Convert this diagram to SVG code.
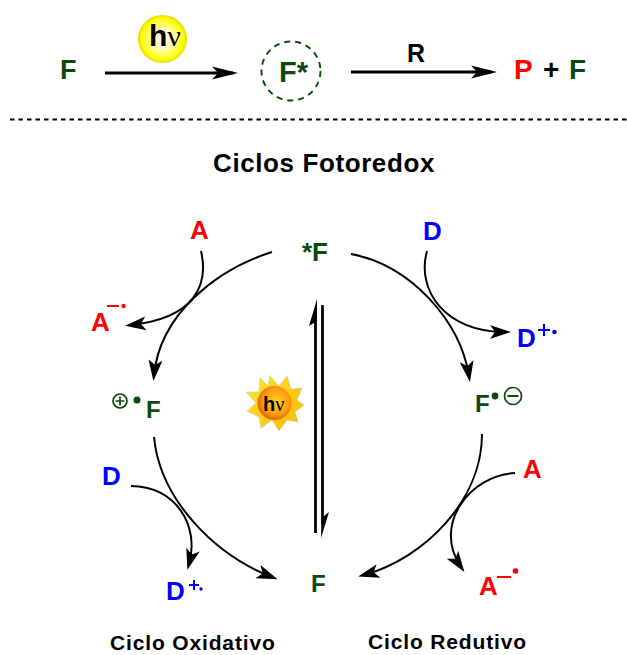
<svg xmlns="http://www.w3.org/2000/svg" width="627" height="655" viewBox="0 0 627 655">
<style>
text{font-family:"Liberation Sans",Arial,sans-serif;font-weight:bold}
.g{fill:#0b4a0b}.r{fill:#ff0000}.b{fill:#0000ff}.k{fill:#000}
.t{font-size:21px;letter-spacing:.85px}
.c{fill:none;stroke:#000;stroke-width:2;marker-end:url(#h)}
.l{fill:none;stroke:#000;stroke-width:2.800;marker-end:url(#H)}
</style>
<defs>
<marker id="h" markerUnits="userSpaceOnUse" markerWidth="26" markerHeight="20" refX="15" refY="10" orient="auto"><path d="M0 3L21 10L0 17L5 10Z"/></marker>
<marker id="H" markerUnits="userSpaceOnUse" markerWidth="30" markerHeight="20" refX="21" refY="10" orient="auto"><path d="M0 3.500L26 10L0 16.500L6 10Z"/></marker>
<radialGradient id="bulb" cx=".5" cy=".5" r=".5"><stop offset="0" stop-color="#fff"/><stop offset=".45" stop-color="#fffbb0"/><stop offset=".85" stop-color="#ffff00"/><stop offset="1" stop-color="#e8d800"/></radialGradient>
<radialGradient id="core" cx=".55" cy=".45" r=".55"><stop offset="0" stop-color="#ffd21f"/><stop offset=".7" stop-color="#ff9a10"/><stop offset="1" stop-color="#d86a00"/></radialGradient>
<linearGradient id="ray" x1="0" y1="0" x2="1" y2="1"><stop offset="0" stop-color="#ffe62e"/><stop offset="1" stop-color="#ffb400"/></linearGradient>
</defs>
<g id="connectors">
<path class="l" d="M105 73H233"/>
<path class="l" d="M351 72H492"/>
<path class="c" d="M272 252C215 270 160 315 154 375"/>
<path class="c" d="M201 251C209 285 195 318 131 325"/>
<path class="c" d="M351 254C410 265 460 320 469 376"/>
<path class="c" d="M427 251C416 290 445 332 505 332"/>
<path class="c" d="M154 437C160 500 215 555 272 577"/>
<path class="c" d="M131 486C175 486 200 525 189 564"/>
<path class="c" d="M482 434C482 500 425 558 364 575"/>
<path class="c" d="M515 473C470 475 432 525 461 567"/>
<path fill="none" stroke="#000" stroke-width="2.800" d="M315.500 533V310M322.500 305V525"/>
<path d="M317 299L309 326L317 321Z"/>
<path d="M321 538L329 512L321.500 518Z"/>
</g>
<g id="divider"><path d="M10 119.500H627" stroke="#000" stroke-width="1.800" stroke-dasharray="4.500 4"/></g>
<g id="node-F-top"><text class="g" x="60" y="79" style="font-size:27px">F</text></g>
<g id="node-hv-bulb"><ellipse cx="162.500" cy="39" rx="24.500" ry="24" fill="url(#bulb)"/><text class="k" x="149" y="46" style="font-size:30px">h<tspan style="font-family:'Liberation Serif',serif;font-weight:normal">ν</tspan></text></g>
<g id="node-F-star"><circle cx="291" cy="71" r="29.500" fill="none" stroke="#0b4a0b" stroke-width="1.900" stroke-dasharray="6 5"/><text class="g" x="279" y="82" style="font-size:29px">F*</text></g>
<g id="node-R"><text class="k" x="407" y="62" style="font-size:25px">R</text></g>
<g id="node-products"><text class="r" x="514" y="79" style="font-size:28px">P</text><text class="k" x="543" y="79" style="font-size:28px">+</text><text class="g" x="569" y="79" style="font-size:28px">F</text></g>
<g id="title"><text class="k" x="213" y="172" style="font-size:26px;letter-spacing:.6px">Ciclos Fotoredox</text></g>
<g id="node-F-excited"><text class="g" x="302" y="261" style="font-size:26px">*F</text></g>
<g id="node-A-left"><text class="r" x="190" y="239" style="font-size:26px">A</text></g>
<g id="node-A-radical-left"><text class="r" x="91" y="331" style="font-size:26px">A</text><path d="M107 306H119" stroke="#f00" stroke-width="2"/><circle cx="123.500" cy="306" r="2.200" fill="#f00"/></g>
<g id="node-F-plus"><circle cx="120" cy="401" r="7" fill="none" stroke="#0b4a0b" stroke-width="1.700"/><path d="M115.500 401H124.500M120 396.500V405.500" stroke="#0b4a0b" stroke-width="1.700"/><circle cx="137" cy="400" r="3.500" fill="#0b4a0b"/><text class="g" x="146" y="418" style="font-size:24px">F</text></g>
<g id="node-sun"><polygon fill="url(#ray)" stroke="#c9c9a0" stroke-width=".6" points="270,376 279,386 287,376 291,389 302,388 297,400 304,405 295,412 298,422 287,420 279,431 272,420 261,428 259,417 247,411 256,403 246,392 259,392 260,378 268,386"/><circle cx="274.500" cy="403" r="17" fill="url(#core)"/><text class="k" x="263" y="411" style="font-size:20px">h<tspan style="font-family:'Liberation Serif',serif;font-weight:normal">ν</tspan></text></g>
<g id="node-D-right"><text class="b" x="423" y="240" style="font-size:26px">D</text></g>
<g id="node-D-radical-right"><text class="b" x="517" y="347" style="font-size:26px">D</text><path d="M538 330H550M544 324V336" stroke="#00f" stroke-width="2.200"/><circle cx="554.500" cy="332" r="2.300" fill="#00f"/></g>
<g id="node-F-minus"><text class="g" x="475" y="412" style="font-size:24px">F</text><circle cx="495" cy="396" r="3.400" fill="#0b4a0b"/><circle cx="513" cy="396" r="8.500" fill="none" stroke="#0b4a0b" stroke-width="1.700"/><path d="M507.500 396H518.500" stroke="#0b4a0b" stroke-width="2"/></g>
<g id="node-D-left"><text class="b" x="102" y="485" style="font-size:26px">D</text></g>
<g id="node-D-radical-left"><text class="b" x="166" y="600" style="font-size:26px">D</text><path d="M189 585H199M194 580V590" stroke="#00f" stroke-width="2"/><circle cx="201" cy="589" r="1.700" fill="#00f"/></g>
<g id="node-F-bottom"><text class="g" x="311" y="592" style="font-size:24px">F</text></g>
<g id="node-A-right"><text class="r" x="523" y="478" style="font-size:26px">A</text></g>
<g id="node-A-radical-right"><text class="r" x="479" y="595" style="font-size:26px">A</text><path d="M497 577H511" stroke="#f00" stroke-width="2"/><circle cx="515.500" cy="571" r="2.800" fill="#f00"/></g>
<g id="label-oxidative"><text class="k t" x="110" y="650">Ciclo Oxidativo</text></g>
<g id="label-reductive"><text class="k t" x="368" y="649">Ciclo Redutivo</text></g>
</svg>
